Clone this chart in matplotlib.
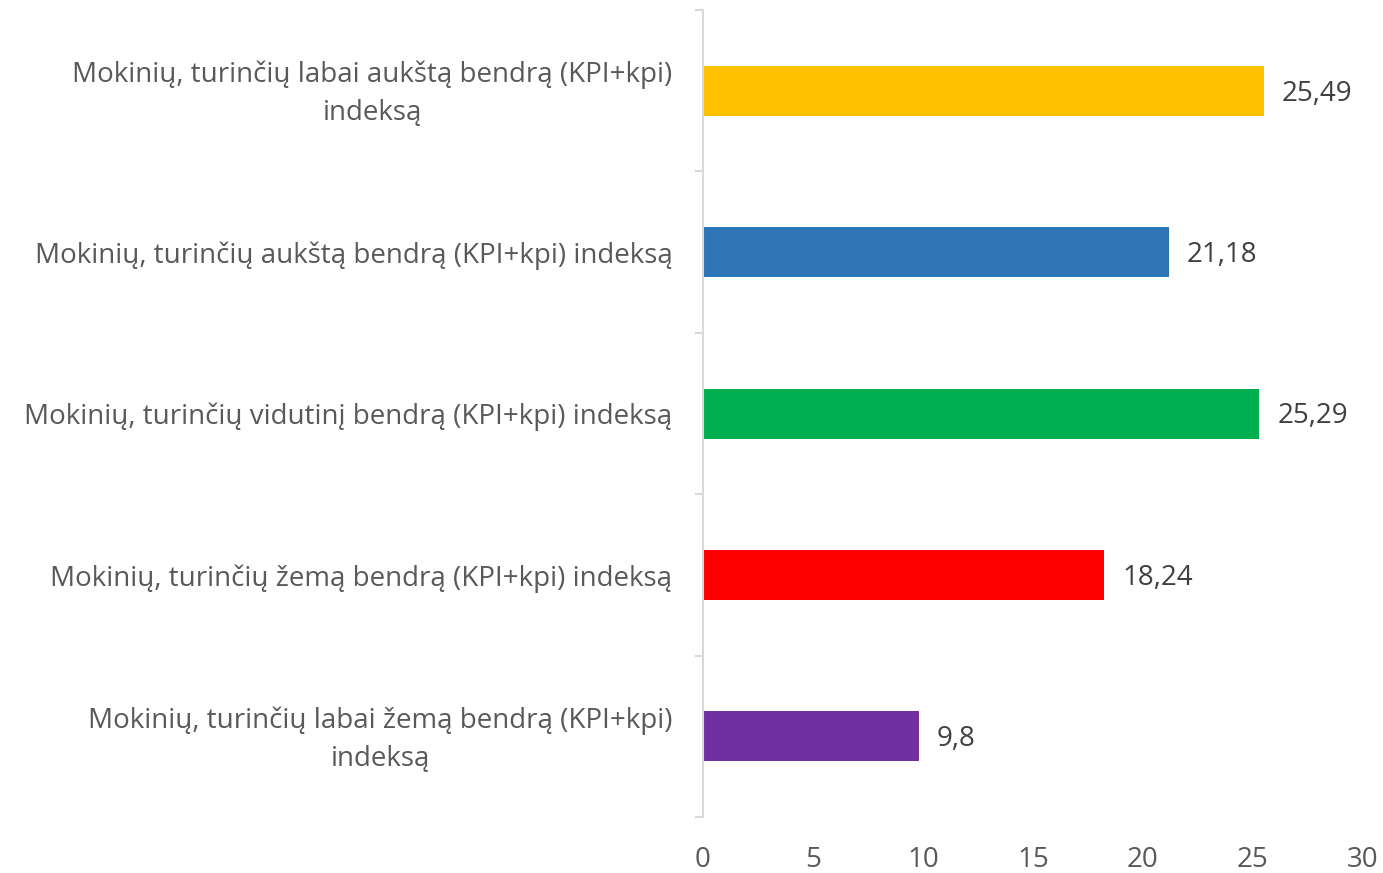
import matplotlib
matplotlib.use("Agg")
import matplotlib.pyplot as plt
import matplotlib.transforms as mtransforms
import numpy as np

# categories, top to bottom
labels = [
    "Mokinių, turinčių labai aukštą bendrą (KPI+kpi)\nindeksą",
    "Mokinių, turinčių aukštą bendrą (KPI+kpi) indeksą",
    "Mokinių, turinčių vidutinį bendrą (KPI+kpi) indeksą",
    "Mokinių, turinčių žemą bendrą (KPI+kpi) indeksą",
    "Mokinių, turinčių labai žemą bendrą (KPI+kpi)\nindeksą",
]
values = [25.49, 21.18, 25.29, 18.24, 9.8]
colors = ["#FFC000", "#2E75B6", "#00B050", "#FF0000", "#7030A0"]
xticks = [0, 5, 10, 15, 20, 25, 30]

LABEL = "#595959"
VALUE = "#404040"
AXIS = "#D9D9D9"

plt.rcParams["font.family"] = ["Open Sans", "DejaVu Sans"]

fig = plt.figure(figsize=(13.83, 8.73), dpi=100)
ax = fig.add_axes([0.5083, 0.0641, 0.4772, 0.9244])

y = np.arange(len(values))
ax.barh(y, values, height=0.31, color=colors, zorder=2)

for yi, v in zip(y, values):
    txt = f"{v:g}".replace(".", ",")
    ax.annotate(txt, (v, yi), xytext=(13, -2), textcoords="offset points",
                va="center", ha="left", fontsize=20, color=VALUE)

ax.set_xlim(0, 30)
ax.set_ylim(len(values) - 0.5, -0.5)
ax.set_xticks(xticks)
ax.set_xticklabels([str(t) for t in xticks], fontsize=20, color=LABEL)
ax.tick_params(axis="x", length=0, pad=21)

ax.set_yticks(y)
ax.set_yticklabels(labels, fontsize=20, color=LABEL, multialignment="center",
                   linespacing=1.45)
ax.tick_params(axis="y", which="major", length=0, pad=22)
ax.set_yticks(np.arange(len(values) + 1) - 0.5, minor=True)
ax.tick_params(axis="y", which="minor", length=6, width=1.5, color=AXIS)

# two-line labels sit a touch higher in the original
up = mtransforms.ScaledTranslation(0, 5 / 100, fig.dpi_scale_trans)
for lab in ax.get_yticklabels():
    if "\n" in lab.get_text():
        lab.set_transform(lab.get_transform() + up)

for s in ["top", "right", "bottom"]:
    ax.spines[s].set_visible(False)
ax.spines["left"].set_color(AXIS)
ax.spines["left"].set_linewidth(1.5)

fig.savefig("out.png", dpi=100, facecolor="white")
